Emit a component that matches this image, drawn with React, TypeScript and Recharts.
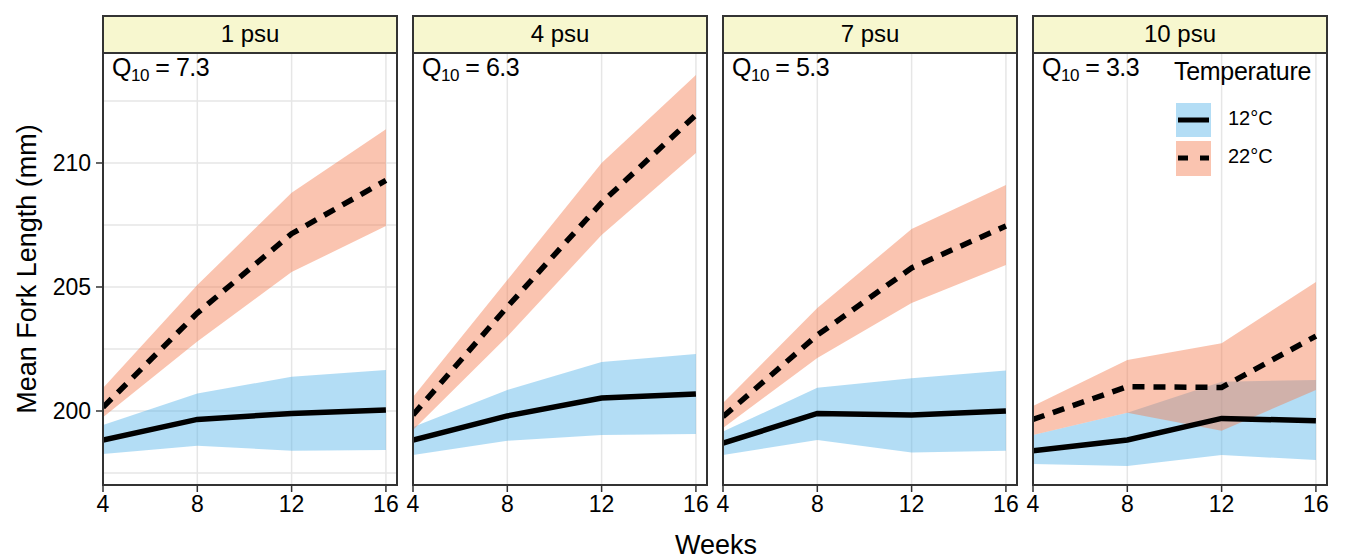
import { ComposedChart, Area, Line, XAxis, YAxis, CartesianGrid } from 'recharts'

const weeks = [4, 8, 12, 16]
const salinities = ['1 psu', '4 psu', '7 psu', '10 psu']
const q10Values = ['7.3', '6.3', '5.3', '3.3']

// 12°C fits and bands, one row per salinity
const mean12 = [
  [198.83, 199.66, 199.9, 200.04],
  [198.83, 199.8, 200.52, 200.69],
  [198.7, 199.9, 199.84, 200.0],
  [198.4, 198.83, 199.7, 199.61],
]
const low12 = [
  [198.27, 198.6, 198.4, 198.43],
  [198.23, 198.8, 199.03, 199.07],
  [198.23, 198.83, 198.33, 198.4],
  [197.86, 197.78, 198.23, 198.02],
]
const high12 = [
  [199.44, 200.71, 201.38, 201.65],
  [199.35, 200.85, 201.98, 202.3],
  [199.17, 200.94, 201.32, 201.63],
  [199.03, 199.93, 201.18, 201.25],
]

// 22°C fits and bands
const mean22 = [
  [200.15, 203.95, 207.15, 209.3],
  [199.84, 204.2, 208.4, 211.94],
  [199.77, 203.06, 205.77, 207.46],
  [199.66, 200.98, 200.95, 203.02],
]
const low22 = [
  [199.75, 202.8, 205.6, 207.46],
  [199.23, 203.0, 207.1, 210.4],
  [199.31, 202.14, 204.35, 205.89],
  [199.03, 199.93, 199.2, 200.85],
]
const high22 = [
  [200.93, 205.08, 208.8, 211.36],
  [200.56, 205.28, 210.0, 213.55],
  [200.32, 204.15, 207.34, 209.11],
  [200.2, 202.06, 202.73, 205.2],
]

const yTicks = [200, 205, 210]
const yGrid = [197.5, 200, 202.5, 205, 207.5, 210, 212.5]
const xGrid = [8, 12, 16]

const FONT = '"Liberation Sans", Arial, Helvetica, sans-serif'
const BLUE = '#56B4E9'
const SALMON = '#F47C4F'
const panelLefts = [103, 413, 723, 1033]
const PANEL_W = 294
const PANEL_TOP = 53
const PANEL_H = 432

function Panel({ idx }: { idx: number }) {
  const data = weeks.map((w, j) => ({
    week: w,
    band12: [low12[idx][j], high12[idx][j]],
    band22: [low22[idx][j], high22[idx][j]],
    m12: mean12[idx][j],
    m22: mean22[idx][j],
  }))
  const left = panelLefts[idx] - 103
  return (
    <div style={{ position: 'absolute', left, top: PANEL_TOP }}>
      <ComposedChart
        width={103 + PANEL_W + 14}
        height={PANEL_H + 45}
        data={data}
        margin={{ top: 0, right: 14, bottom: 0, left: 0 }}
      >
        <CartesianGrid
          stroke="#e6e6e6"
          strokeWidth={1.5}
          horizontalValues={yGrid}
          verticalValues={xGrid}
        />
        <XAxis
          dataKey="week"
          type="number"
          domain={[4, 16.47]}
          allowDataOverflow
          ticks={weeks}
          axisLine={false}
          tickSize={7}
          tickMargin={4}
          tickLine={{ stroke: '#333', strokeWidth: 1.5 }}
          tick={{ fill: '#000', fontSize: 23, fontFamily: FONT }}
          height={45}
        />
        <YAxis
          type="number"
          domain={[197.016, 214.435]}
          allowDataOverflow
          ticks={yTicks}
          axisLine={false}
          width={103}
          tickSize={7}
          tickMargin={5}
          tickLine={idx === 0 ? { stroke: '#333', strokeWidth: 1.5 } : false}
          tick={idx === 0 ? { fill: '#000', fontSize: 23, fontFamily: FONT } : false}
        />
        <Area dataKey="band12" type="linear" stroke="none" fill={BLUE} fillOpacity={0.45} isAnimationActive={false} />
        <Area dataKey="band22" type="linear" stroke="none" fill={SALMON} fillOpacity={0.45} isAnimationActive={false} />
        <Line dataKey="m12" type="linear" stroke="#000" strokeWidth={5.5} dot={false} isAnimationActive={false} />
        <Line
          dataKey="m22"
          type="linear"
          stroke="#000"
          strokeWidth={5.5}
          strokeDasharray="12 9"
          dot={false}
          isAnimationActive={false}
        />
      </ComposedChart>
    </div>
  )
}

export default function App() {
  return (
    <div style={{ position: 'absolute', left: 0, top: 0, width: 1345, height: 559, background: '#fff', fontFamily: FONT, color: '#000' }}>
      {salinities.map((s, i) => (
        <Panel key={s} idx={i} />
      ))}
      {salinities.map((s, i) => (
        <div key={'frame' + s}>
          <div
            style={{
              position: 'absolute', left: panelLefts[i] - 1, top: 15, width: PANEL_W + 2, height: 39,
              background: '#f7f7cf', border: '2px solid #333', boxSizing: 'border-box',
              textAlign: 'center', fontSize: 24, lineHeight: '34px',
            }}
          >
            {s}
          </div>
          <div
            style={{
              position: 'absolute', left: panelLefts[i] - 1, top: PANEL_TOP - 1, width: PANEL_W + 2, height: PANEL_H + 2,
              border: '2px solid #333', boxSizing: 'border-box', pointerEvents: 'none',
            }}
          />
          <div style={{ position: 'absolute', left: panelLefts[i] + 9, top: 53, fontSize: 25, whiteSpace: 'nowrap', letterSpacing: -0.5 }}>
            Q<sub style={{ fontSize: 17, verticalAlign: '-5px' }}>10</sub> = {q10Values[i]}
          </div>
        </div>
      ))}
      {/* legend */}
      <div style={{ position: 'absolute', left: 1174, top: 57, fontSize: 25, whiteSpace: 'nowrap', letterSpacing: -0.3 }}>Temperature</div>
      <svg style={{ position: 'absolute', left: 1174, top: 101 }} width={40} height={78}>
        <rect x={2} y={2} width={35} height={34} fill={BLUE} fillOpacity={0.45} />
        <rect x={2} y={40} width={35} height={35} fill={SALMON} fillOpacity={0.45} />
        <line x1={4} x2={35} y1={19} y2={19} stroke="#000" strokeWidth={5} />
        <line x1={4} x2={35} y1={57} y2={57} stroke="#000" strokeWidth={5} strokeDasharray="10 12" />
      </svg>
      <div style={{ position: 'absolute', left: 1228, top: 107, fontSize: 20 }}>12°C</div>
      <div style={{ position: 'absolute', left: 1228, top: 145, fontSize: 20 }}>22°C</div>
      {/* axis titles */}
      <div
        style={{
          position: 'absolute', left: 27, top: 269, fontSize: 27, whiteSpace: 'nowrap',
          transform: 'translate(-50%, -50%) rotate(-90deg)',
        }}
      >
        Mean Fork Length (mm)
      </div>
      <div style={{ position: 'absolute', left: 716, top: 545, fontSize: 27, transform: 'translate(-50%, -50%)' }}>
        Weeks
      </div>
    </div>
  )
}
